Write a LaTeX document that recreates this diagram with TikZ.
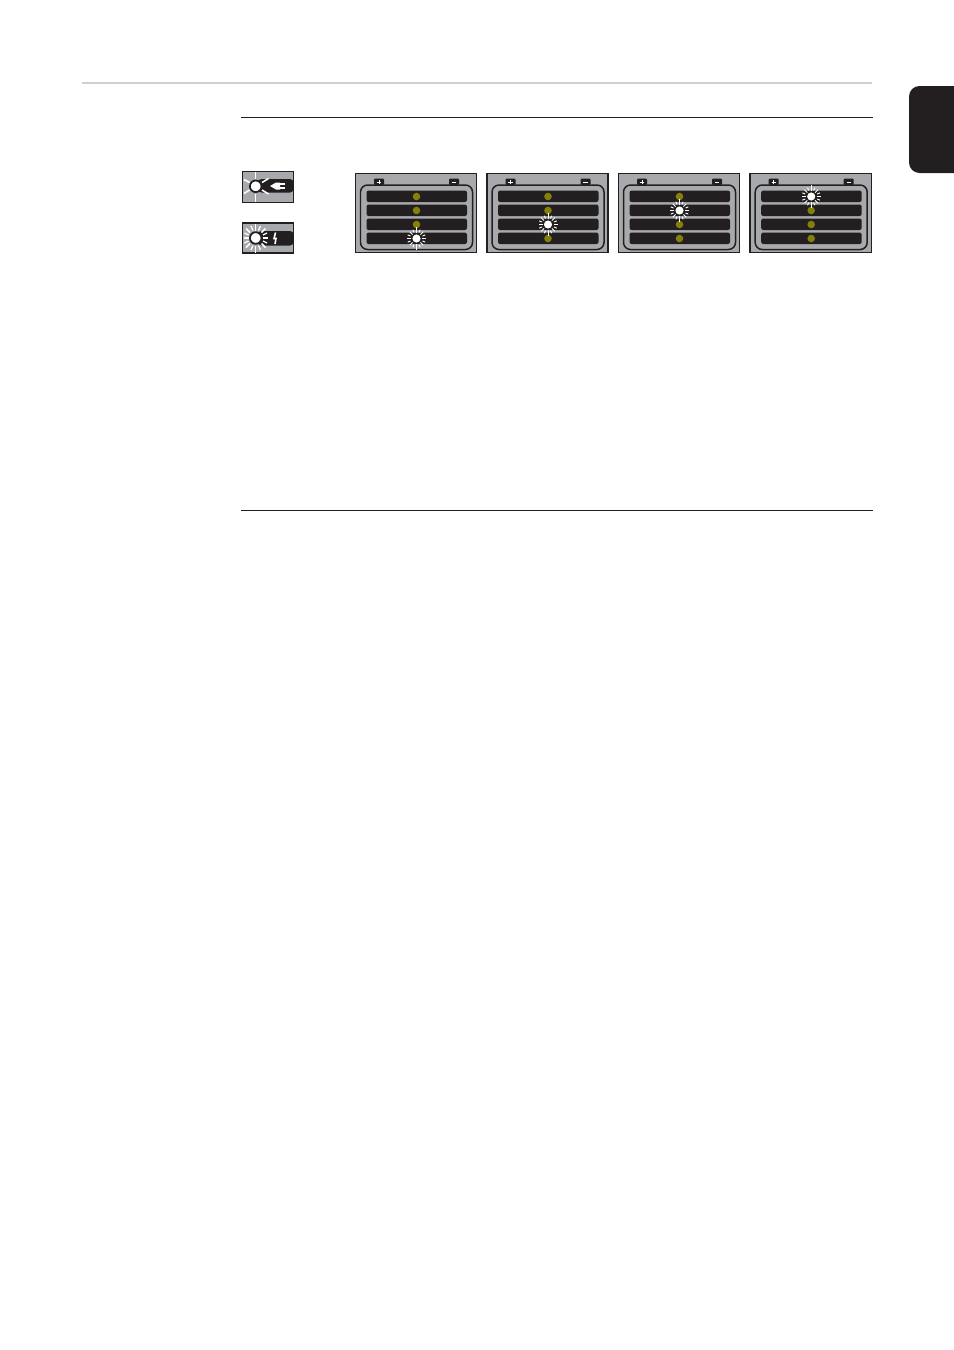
\documentclass[tikz,border=0pt]{standalone}
\definecolor{inkblack}{HTML}{231F20}
\definecolor{panelgray}{HTML}{A7A9AC}
\definecolor{ledolive}{HTML}{85800A}
\definecolor{rulegray}{HTML}{D0D0D0}
\tikzset{
  rulethin/.style={draw=inkblack, line width=0.65pt},
  cellbar/.style={fill=inkblack, draw=none, rounded corners=1.2pt},
  led/.style={circle, fill=ledolive, inner sep=0pt, minimum size=4.3pt},
  litled/.style={circle, fill=white, inner sep=0pt, minimum size=4.6pt},
  ray/.style={draw=white, line width=0.55pt},
  iconbox/.style={fill=panelgray, draw=inkblack, line width=0.8pt},
  iconled/.style={circle, fill=white, draw=inkblack, line width=1pt, inner sep=0pt, minimum size=6.6pt},
  pics/battery/.style={code={
    \fill[panelgray, draw=inkblack, line width=0.85pt] (0.3,0.3) rectangle (121.7,79.7);
    \draw[inkblack, line width=0.85pt, fill=panelgray, rounded corners=4pt] (5.5,12) rectangle (117.5,76.5);
    \fill[inkblack, rounded corners=0.6pt] (19,5.5) rectangle (29,12);
    \fill[inkblack, rounded corners=0.6pt] (94,5.5) rectangle (104,12);
    \draw[white, line width=0.5pt] (21.8,9) -- (26.2,9) (24,7.2) -- (24,10.8);
    \draw[white, line width=0.5pt] (96.8,9) -- (101.2,9);
    \draw[cellbar] (11.5,17.5) rectangle (112,29);
    \draw[cellbar] (11.5,31.5) rectangle (112,43);
    \draw[cellbar] (11.5,45.5) rectangle (112,57);
    \draw[cellbar] (11.5,59.5) rectangle (112,71);
    \node[led] at (61.5,23.5){};
    \node[led] at (61.5,37.5){};
    \node[led] at (61.5,51.5){};
    \node[led] at (61.5,65.5){};
  }},
  pics/spark/.style={code={
    \node[litled] at (0,0){};
    \foreach \a in {0,45,...,315}{
      \draw[ray] (\a:5.5) -- (\a:9.5);
    }
    \foreach \a in {22.5,67.5,...,337.5}{
      \draw[ray] (\a:6.5) -- (\a:9.5);
    }
    \draw[ray] (0,-5.5) -- (0,-11.5);
    \draw[ray] (0,5.5) -- (0,11.5);
  }},
}
\begin{document}
\begin{tikzpicture}[x=0.02cm, y=-0.02cm]
\useasboundingbox (0,0) rectangle (954,1350);
% page rules and tab
\draw[rulegray, line width=1.1pt] (82,83) -- (872,83);
\draw[rulethin] (241,117.5) -- (872.5,117.5);
\draw[rulethin] (241,510.5) -- (872.5,510.5);
\fill[inkblack, rounded corners=6pt] (954,86) -- (909,86) -- (909,173) -- (954,173);
\fill[inkblack] (940,86) rectangle (954,173);
% first icon
\draw[iconbox] (242.5,171.5) rectangle (293.5,202.5);
\fill[inkblack, rounded corners=2pt] (258,179) rectangle (293.5,192.5);
\node[iconled] (plugled) at (255.7,186.3){};
\fill[white] (270,186) -- (276,182.5) -- (280,182.5) -- (280,189.5) -- (276,189.5) -- cycle;
\draw[white, line width=0.7pt] (280,184) -- (285,184) (280,188) -- (285,188);
\draw[white, line width=0.9pt] (255.7,172) -- (255.7,179) (255.7,194) -- (255.7,202);
\draw[white, line width=0.9pt] (244,179.5) -- (249.5,182.5) (244,193.5) -- (249.5,190) (262,182.5) -- (268.5,178.5) (262,190) -- (268.5,194);
% second icon
\draw[iconbox] (242.5,223) rectangle (293.5,253);
\fill[inkblack, rounded corners=2pt] (258,231) rectangle (293.5,245.5);
\node[iconled] (lightled) at (255.7,238){};
\draw[white, line width=0.9pt] (275.5,232.5) -- (274,238.5) -- (276,238.5) -- (275,244);
\draw[white, line width=0.9pt] (255.7,224) -- (255.7,230.5) (255.7,245.5) -- (255.7,253);
\draw[white, line width=0.9pt] (244,238) -- (249,238) (262.5,238) -- (267.5,238);
\draw[white, line width=0.9pt] (246,228.5) -- (250,232.5) (246,247.5) -- (250,243.5) (261.5,232.5) -- (265.5,228.5) (261.5,243.5) -- (265.5,247.5);
\draw[white, line width=0.7pt] (244.5,233) -- (248.5,235) (244.5,243) -- (248.5,241) (251,226) -- (253,230.5) (251,250) -- (253,245.5) (260.5,226) -- (258.5,230.5) (260.5,250) -- (258.5,245.5) (263,235) -- (267,233) (263,241) -- (267,243);
% battery panels
\pic (bat0) at (355,173) {battery};
\pic (bat1) at (486.5,173) {battery};
\pic (bat2) at (618,173) {battery};
\pic (bat3) at (749.7,173) {battery};
\pic (lit0) at (416.5,238.5) {spark};
\pic (lit1) at (548,224.5) {spark};
\pic (lit2) at (679.5,210.5) {spark};
\pic (lit3) at (811.2,196.5) {spark};
\end{tikzpicture}
\end{document}
